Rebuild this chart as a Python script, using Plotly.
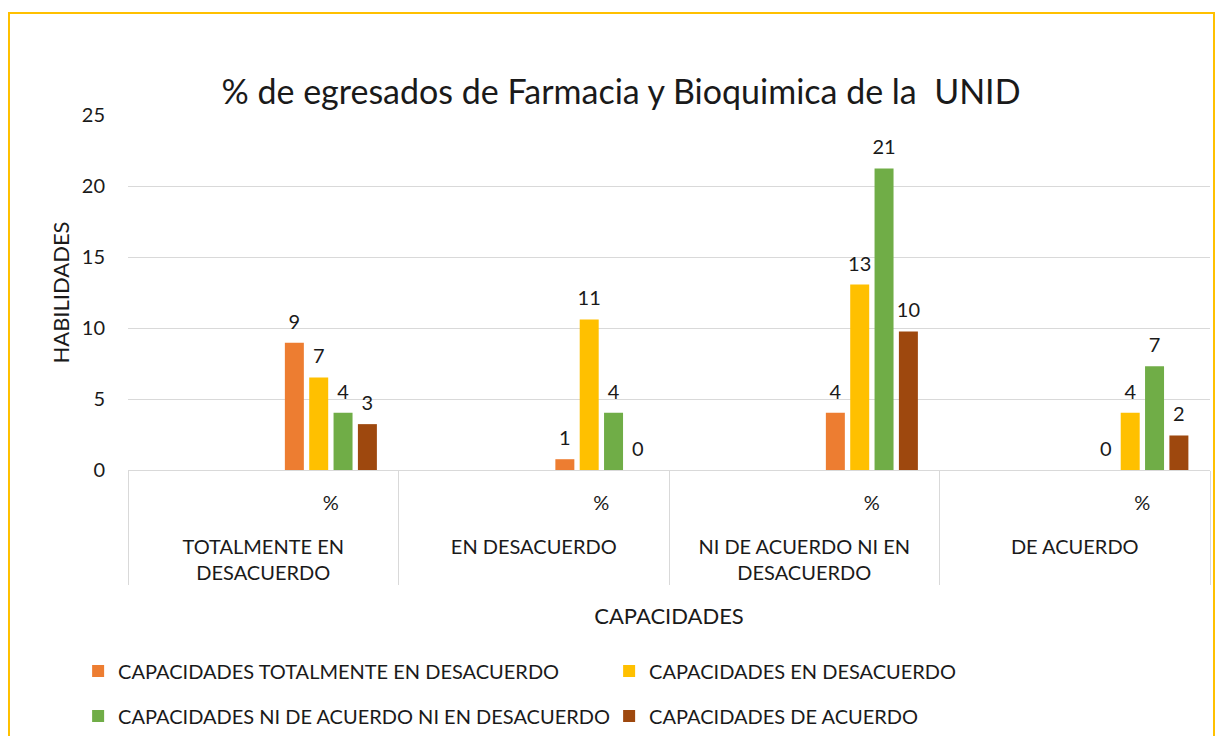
import plotly.graph_objects as go

groups = ["TOTALMENTE EN<br>DESACUERDO", "EN DESACUERDO", "NI DE ACUERDO NI EN<br>DESACUERDO", "DE ACUERDO"]
subcats = [" ", "%<br><span style='font-size:48px'> </span>"]
series_names = [
    "CAPACIDADES TOTALMENTE EN DESACUERDO",
    "CAPACIDADES EN DESACUERDO",
    "CAPACIDADES NI DE ACUERDO NI EN DESACUERDO",
    "CAPACIDADES DE ACUERDO",
]
s_totalmente = [8.96, 0.76, 4.03, 0.0]
s_desacuerdo = [6.52, 10.6, 13.06, 4.03]
s_ni = [4.03, 4.03, 21.24, 7.3]
s_acuerdo = [3.23, 0.0, 9.76, 2.43]
colors = ["#ED7D31", "#FFC000", "#70AD47", "#9E480E"]

FONT = "Lato"
TXT = "#1a1a1a"
OFF = 8  # page body margin
W, H = 1223 - 2 * OFF, 744 - 2 * OFF
PADSPAN = "<span style='font-size:50px'> </span>"

x_outer = []
x_inner = []
for g in groups:
    for s in subcats:
        x_outer.append(g)
        x_inner.append(s)

fig = go.Figure()
all_series = [s_totalmente, s_desacuerdo, s_ni, s_acuerdo]
for i, (name, vals, col) in enumerate(zip(series_names, all_series, colors)):
    y = []
    txt = []
    for v in vals:
        y += [None, v]
        txt += ["", f"{PADSPAN}{v:.0f}{PADSPAN}"]
    fig.add_trace(go.Bar(
        x=[x_outer, x_inner], y=y, name=name, marker_color=col,
        marker_line_width=0,
        text=txt, textposition="outside", cliponaxis=False, constraintext="none",
        textfont=dict(family=FONT, size=20, color=TXT),
        legend="legend" if i < 2 else "legend2",
    ))

# plot area in screen pixels
L, R, T, B = 128, 1210, 115, 470
fig.update_layout(
    width=W, height=H,
    margin=dict(l=L - OFF, r=W - (R - OFF), t=T - OFF, b=H - (B - OFF), autoexpand=False),
    paper_bgcolor="white", plot_bgcolor="white",
    font=dict(family=FONT, size=20, color=TXT),
    title=dict(text="% de egresados de Farmacia y Bioquimica de la  UNID",
               x=(621 - OFF) / W, xanchor="center", y=1 - (92 - OFF) / H, yanchor="middle",
               font=dict(family=FONT, size=34, color=TXT)),
    barmode="group", bargap=0.28, bargroupgap=0.22,
    legend=dict(orientation="h", x=-0.0461, xanchor="left",
                y=(B - 671) / (B - T), yanchor="middle",
                entrywidth=486, entrywidthmode="pixels",
                font=dict(family=FONT, size=20, color=TXT), itemwidth=30),
    legend2=dict(orientation="h", x=-0.0461, xanchor="left",
                 y=(B - 716) / (B - T), yanchor="middle",
                 entrywidth=486, entrywidthmode="pixels",
                 font=dict(family=FONT, size=20, color=TXT), itemwidth=30),
)
fig.update_xaxes(
    type="multicategory", showline=True, linecolor="#D9D9D9", linewidth=1,
    showdividers=True, dividercolor="#D9D9D9", dividerwidth=1,
    ticks="", tickfont=dict(family=FONT, size=20, color=TXT),
    ticklabelstandoff=15, automargin=False,
    title=dict(text="CAPACIDADES", font=dict(family=FONT, size=22, color=TXT), standoff=25),
    showgrid=False,
)
fig.update_yaxes(
    range=[0, 25], dtick=5, showgrid=True, gridcolor="#D9D9D9", gridwidth=1,
    zeroline=False, showline=False, ticks="", automargin=False,
    ticklabelstandoff=22,
    tickfont=dict(family=FONT, size=20, color=TXT),
    title=dict(text="HABILIDADES", font=dict(family=FONT, size=22, color=TXT), standoff=6),
)

def px_x(p):
    return (p - L) / (R - L)
def px_y(p):
    return (B - p) / (B - T)
# outer chart border (screen pixels)
fig.add_shape(type="rect", xref="paper", yref="paper",
              x0=px_x(OFF + 1), x1=px_x(1214), y0=px_y(760), y1=px_y(13),
              line=dict(color="#FFC000", width=2), fillcolor="rgba(0,0,0,0)", layer="below")

fig.write_html("out.html")
